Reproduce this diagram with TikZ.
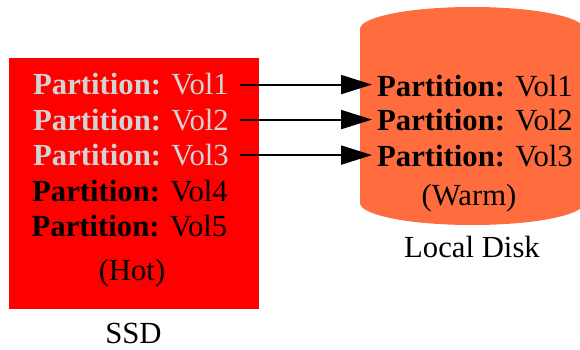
\documentclass[tikz,border=0pt]{standalone}
\usepackage{fontspec}
\setmainfont{LiberationSerif}[Extension=.ttf, UprightFont=*-Regular, BoldFont=*-Bold]
\usetikzlibrary{arrows.meta}
\definecolor{hot}{HTML}{FF0000}
\definecolor{warm}{HTML}{FF6D3F}
\definecolor{lgray}{HTML}{D3D3D3}
\begin{document}
\begin{tikzpicture}[x=1pt,y=-1pt,
  txt/.style={font=\fontsize{30.7}{36}\selectfont, inner sep=0pt, anchor=base},
  conn/.style={line width=2pt, -{Triangle[length=31pt,width=19pt]}}]
\useasboundingbox (0,0) rectangle (580,350);
\clip (0,0) rectangle (580,350);
% SSD box
\node[fill=hot, minimum width=250pt, minimum height=251pt, inner sep=0pt, anchor=north west] (ssd) at (9,58) {};
% Local disk cylinder
\fill[warm] (360,29) rectangle (584,203);
\fill[warm] (472,29) ellipse [x radius=112, y radius=22];
\fill[warm] (472,203) ellipse [x radius=112, y radius=22];
% SSD rows
\node[txt, text=lgray] (s1) at (131,95) {\textbf{Partition:} Vol1};
\node[txt, text=lgray] (s2) at (131,130) {\textbf{Partition:} Vol2};
\node[txt, text=lgray] (s3) at (131,165.5) {\textbf{Partition:} Vol3};
\node[txt] (s4) at (130,201.5) {\textbf{Partition:} Vol4};
\node[txt] (s5) at (129.5,236.5) {\textbf{Partition:} Vol5};
\node[txt] (hot) at (132,280) {(Hot)};
\node[txt] (ssdlbl) at (133.5,343) {SSD};
% Disk rows
\node[txt] (c1) at (475,96.5) {\textbf{Partition:} Vol1};
\node[txt] (c2) at (475,130) {\textbf{Partition:} Vol2};
\node[txt] (c3) at (475,166) {\textbf{Partition:} Vol3};
\node[txt] (warmlbl) at (469,205) {(Warm)};
\node[txt] (disklbl) at (472,257) {Local Disk};
% connectors
\draw[conn] ([xshift=11pt]s1.east) -- ([xshift=-5pt]s1.east -| c1.west);
\draw[conn] ([xshift=11pt]s2.east) -- ([xshift=-5pt]s2.east -| c2.west);
\draw[conn] ([xshift=11pt]s3.east) -- ([xshift=-5pt]s3.east -| c3.west);
\end{tikzpicture}
\end{document}
